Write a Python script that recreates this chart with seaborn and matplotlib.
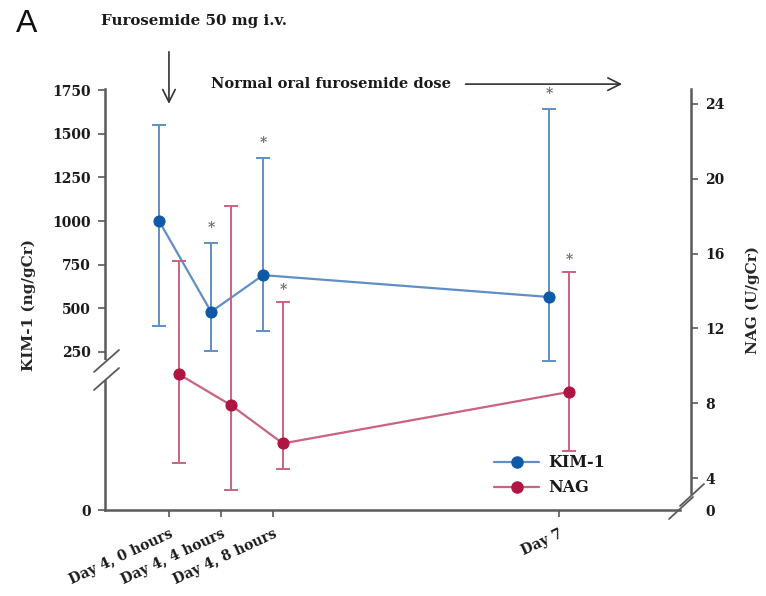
import numpy as np
import pandas as pd
import matplotlib
matplotlib.use("Agg")
import matplotlib.pyplot as plt
import seaborn as sns
from matplotlib.lines import Line2D

# ---------------- data ----------------
timepoints = ["Day 4, 0 hours", "Day 4, 4 hours", "Day 4, 8 hours", "Day 7"]
kim1_mean = [1000, 480, 690, 565]
kim1_low = [400, 255, 370, 200]
kim1_high = [1550, 875, 1360, 1640]
kim1_sig = [False, True, True, True]
nag_mean = [9.55, 7.9, 5.85, 8.6]
nag_low = [4.8, 3.35, 4.5, 5.45]
nag_high = [15.6, 18.55, 13.4, 15.0]
nag_sig = [False, False, True, True]
left_ticks = [250, 500, 750, 1000, 1250, 1500, 1750]
right_ticks = [4, 8, 12, 16, 20, 24]

# ---------------- layout / style ----------------
tick_pos = np.array([0, 1, 2, 7.5])
dodge = 0.19
kim_dot, kim_line = "#0f5aa6", "#5f8fc6"
nag_dot, nag_line = "#b01442", "#c9637f"
axis_col = "#5a5a5a"
txt_col = "#1a1a1a"
TICK_FS = 10
LAB_FS = 11

sns.set_style("ticks")
plt.rcParams["font.family"] = ["DejaVu Serif"]
plt.rcParams["font.weight"] = "bold"
plt.rcParams["text.color"] = txt_col

W, H = 766, 596
fig = plt.figure(figsize=(W / 100, H / 100), dpi=100)
L, R, T, B = 105, 691, 89, 510
ax = fig.add_axes([L / W, 1 - B / H, (R - L) / W, (B - T) / H])
ax2 = ax.twinx()

# limits (broken axes: lower part compressed)
ax.set_xlim(-1.23, 10.04)
ax.set_ylim(-655, 1756)
ax2.set_ylim(2.29, 24.8)

# ---------------- KIM-1 ----------------
kx = tick_pos - dodge
km = np.array(kim1_mean, float)
df_k = pd.DataFrame({"x": kx, "y": km})
ax.errorbar(kx, km, yerr=[km - np.array(kim1_low), np.array(kim1_high) - km],
            fmt="none", ecolor=kim_line, elinewidth=1.4, capsize=5, capthick=1.4, zorder=2)
sns.lineplot(data=df_k, x="x", y="y", ax=ax, color=kim_line, lw=1.6, marker="o",
             markersize=8, markerfacecolor=kim_dot, markeredgecolor=kim_dot,
             legend=False, zorder=3)

# ---------------- NAG ----------------
nx = tick_pos + dodge
nm = np.array(nag_mean, float)
df_n = pd.DataFrame({"x": nx, "y": nm})
ax2.errorbar(nx, nm, yerr=[nm - np.array(nag_low), np.array(nag_high) - nm],
             fmt="none", ecolor=nag_line, elinewidth=1.4, capsize=5, capthick=1.4, zorder=2)
sns.lineplot(data=df_n, x="x", y="y", ax=ax2, color=nag_line, lw=1.6, marker="o",
             markersize=8, markerfacecolor=nag_dot, markeredgecolor=nag_dot,
             legend=False, zorder=3)

# significance stars
for xi, hi, s in zip(kx, kim1_high, kim1_sig):
    if s:
        ax.annotate("*", xy=(xi, hi), xytext=(0, 8), textcoords="offset points",
                    ha="center", va="baseline", fontsize=10, color="#6a6a6a")
for xi, hi, s in zip(nx, nag_high, nag_sig):
    if s:
        ax2.annotate("*", xy=(xi, hi), xytext=(0, 6), textcoords="offset points",
                     ha="center", va="baseline", fontsize=10, color="#6a6a6a")

# ---------------- axes styling ----------------
for a in (ax, ax2):
    for sp in a.spines.values():
        sp.set_color(axis_col)
        sp.set_linewidth(1.8)
    a.spines["top"].set_visible(False)
ax.spines["right"].set_visible(False)
ax2.spines["left"].set_visible(False)
ax2.spines["bottom"].set_visible(False)
ax.spines["bottom"].set_bounds(-1.23, 9.83)
ax2.spines["right"].set_bounds(3.2, 24.8)

ax.set_xticks(tick_pos)
ax.set_xticklabels(timepoints, rotation=25, ha="right", va="top",
                   rotation_mode="anchor", fontsize=TICK_FS, fontweight="bold")
ax.set_yticks([-655] + left_ticks)
ax.set_yticklabels(["0"] + [str(v) for v in left_ticks], fontsize=TICK_FS, fontweight="bold")
ax2.set_yticks([2.29] + right_ticks)
ax2.set_yticklabels(["0"] + [str(v) for v in right_ticks], fontsize=TICK_FS, fontweight="bold")
ax2.yaxis.get_major_ticks()[0].tick2line.set_visible(False)
for a in (ax, ax2):
    a.tick_params(axis="both", direction="out", length=5, width=1.2, color=axis_col,
                  pad=5, labelcolor=txt_col)
ax.tick_params(axis="x", pad=7)

ax.set_ylabel("KIM-1 (ng/gCr)", fontsize=LAB_FS, fontweight="bold")
ax.yaxis.set_label_coords(-0.118, 0.487)
ax2.set_ylabel("NAG (U/gCr)", fontsize=LAB_FS, fontweight="bold")
ax2.yaxis.set_label_coords(1.094, 0.499)
ax.set_xlabel("")

# ---------------- axis break marks ----------------
def px(x, y):
    return (x / W, 1 - y / H)

# left axis gap + slashes
fig.add_artist(Line2D(*zip(px(L, 362), px(L, 378)), color="white", lw=3, transform=fig.transFigure))
for cy in (361, 379):
    (x0, y0), (x1, y1) = px(L - 11, cy + 11), px(L + 14, cy - 11)
    fig.add_artist(Line2D([x0, x1], [y0, y1], color=axis_col, lw=1.3, transform=fig.transFigure))
# bottom-right corner slashes
for cx, cy in ((681, 508), (692, 495)):
    (x0, y0), (x1, y1) = px(cx - 12, cy + 11), px(cx + 12, cy - 11)
    fig.add_artist(Line2D([x0, x1], [y0, y1], color=axis_col, lw=1.3, transform=fig.transFigure))

# ---------------- legend ----------------
handles = [
    Line2D([], [], color=kim_line, lw=1.6, marker="o", markersize=8,
           markerfacecolor=kim_dot, markeredgecolor=kim_dot, label="KIM-1"),
    Line2D([], [], color=nag_line, lw=1.6, marker="o", markersize=8,
           markerfacecolor=nag_dot, markeredgecolor=nag_dot, label="NAG"),
]
leg = ax2.legend(handles=handles, loc="upper left", bbox_to_anchor=px(488, 448),
                 bbox_transform=fig.transFigure, frameon=False, fontsize=11.5,
                 handlelength=2.8, handletextpad=0.55, labelspacing=0.5, borderaxespad=0)
for t in leg.get_texts():
    t.set_fontweight("bold")

# ---------------- annotations ----------------
fig.text(27 / W, 1 - 24 / H, "A", fontsize=23, family="Liberation Sans",
         fontweight="normal", ha="center", va="center", color="#111111")
fig.text(101 / W, 1 - 21 / H, "Furosemide 50 mg i.v.", fontsize=10.8,
         fontweight="bold", ha="left", va="center")
ax.annotate("", xy=(tick_pos[0], 1655), xytext=(tick_pos[0], 1985),
            arrowprops=dict(arrowstyle="->,head_length=0.9,head_width=0.45",
                            color="#333333", lw=1.2),
            annotation_clip=False)
ax.text(5.42, 1784, "Normal oral furosemide dose", fontsize=10.5, fontweight="bold",
        ha="right", va="center", clip_on=False)
ax.annotate("", xy=(8.77, 1784), xytext=(5.65, 1784),
            arrowprops=dict(arrowstyle="->,head_length=0.9,head_width=0.45",
                            color="#333333", lw=1.2),
            annotation_clip=False)

fig.savefig("out.png", dpi=100)
